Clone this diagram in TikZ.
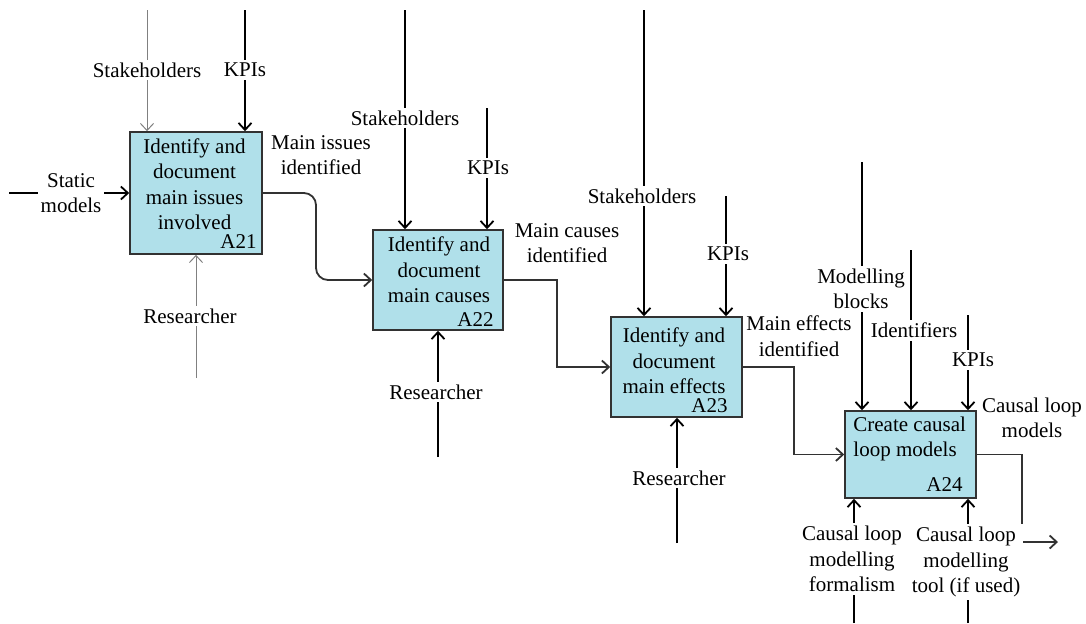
\documentclass[tikz,border=0pt]{standalone}
\usepackage{fontspec}
\setmainfont{Liberation Serif}
\usetikzlibrary{arrows.meta}
\definecolor{boxfill}{RGB}{176,224,234}
\definecolor{boxline}{RGB}{50,50,50}
\newcommand{\idfont}{\fontsize{10.5}{12.75}\selectfont}
\tikzset{
  proc/.style={draw=boxline, fill=boxfill, line width=0.8pt, inner sep=0pt},
  ptxt/.style={align=center, font=\idfont, inner sep=0pt},
  pid/.style={anchor=base east, font=\idfont, inner sep=0pt},
  lbl/.style={fill=white, align=center, font=\idfont, inner sep=1.5pt},
  feed/.style={-{Straight Barb[length=3.5pt,width=6.5pt]}, line width=0.9pt},
  faint/.style={feed, draw=gray, line width=0.5pt},
  flow/.style={feed, draw=boxline, line width=0.9pt}
}
\begin{document}
\begin{tikzpicture}[x=0.5pt, y=-0.5pt]
      \useasboundingbox (0,0) rectangle (1086,623);
      \node[proc, minimum width=66pt, minimum height=61pt] (a21) at (196,193) {};
      \node[proc, minimum width=65pt, minimum height=50pt] (a22) at (438,280) {};
      \node[proc, minimum width=65.5pt, minimum height=50pt] (a23) at (676.5,367) {};
      \node[proc, minimum width=65.5pt, minimum height=43.5pt] (a24) at (910.5,454.5) {};
      \node[ptxt] (a21t) at (194.5,184) {Identify and\\document\\main issues\\involved};
      \node[ptxt] (a22t) at (439,270) {Identify and\\document\\main causes};
      \node[ptxt] (a23t) at (674,361) {Identify and\\document\\main effects};
      \node[ptxt, align=left, anchor=west] (a24t) at (853,439) {Create causal\\loop models};
      \node[pid] (a21id) at (257,248) {A21};
      \node[pid] (a22id) at (494,326) {A22};
      \node[pid] (a23id) at (728,412) {A23};
      \node[pid] (a24id) at (963,491) {A24};
      \coordinate (m1) at (9,193);
      \coordinate (s1) at (147,10);
      \coordinate (k1) at (245,10);
      \coordinate (r1) at (196,378);
      \coordinate (s2) at (405,10);
      \coordinate (k2) at (487,108);
      \coordinate (r2) at (438,457);
      \coordinate (s3) at (644,10);
      \coordinate (k3) at (726,196);
      \coordinate (r3) at (677,543);
      \coordinate (b4) at (862,162);
      \coordinate (i4) at (911,250);
      \coordinate (k4) at (968,315);
      \coordinate (f4) at (854,623);
      \coordinate (t4) at (968,623);
      \coordinate (out) at (1058,542);
      \begin{scope}[feed]
        \draw (m1) -- (a21.west);
        \draw[faint] (s1) -- (s1 |- a21.north);
        \draw (k1) -- (k1 |- a21.north);
        \draw[faint] (r1) -- (r1 |- a21.south);
        \draw (s2) -- (s2 |- a22.north);
        \draw (k2) -- (k2 |- a22.north);
        \draw (r2) -- (r2 |- a22.south);
        \draw (s3) -- (s3 |- a23.north);
        \draw (k3) -- (k3 |- a23.north);
        \draw (r3) -- (r3 |- a23.south);
        \draw (b4) -- (b4 |- a24.north);
        \draw (i4) -- (i4 |- a24.north);
        \draw (k4) -- (k4 |- a24.north);
        \draw (f4) -- (f4 |- a24.south);
        \draw (t4) -- (t4 |- a24.south);
      \end{scope}
      \begin{scope}[flow]
        \draw[rounded corners=6pt] (a21.east) -- (316,193) -- (316,280) -- (a22.west);
        \draw (a22.east) -- (557,280) -- (557,367) -- (a23.west);
        \draw (a23.east) -- (794,367) -- (794,454.5) -- (a24.west);
        \draw (a24.east) -- (1022,454.5) -- (1022,542) -- (out);
      \end{scope}
      \node[lbl] (m1l) at (71,193) {Static\\models};
      \node[lbl] (s1l) at (147,70) {Stakeholders};
      \node[lbl] (k1l) at (245,70) {KPIs};
      \node[lbl] (r1l) at (190,316) {Researcher};
      \node[lbl] (o1l) at (321,155) {Main issues\\identified};
      \node[lbl] (s2l) at (405,118) {Stakeholders};
      \node[lbl] (k2l) at (488,168) {KPIs};
      \node[lbl] (r2l) at (436,392) {Researcher};
      \node[lbl] (o2l) at (567,243) {Main causes\\identified};
      \node[lbl] (s3l) at (642,196) {Stakeholders};
      \node[lbl] (k3l) at (728,254) {KPIs};
      \node[lbl] (r3l) at (679,478) {Researcher};
      \node[lbl] (o3l) at (799,336) {Main effects\\identified};
      \node[lbl] (b4l) at (861,289) {Modelling\\blocks};
      \node[lbl] (i4l) at (914,330) {Identifiers};
      \node[lbl] (k4l) at (973,360) {KPIs};
      \node[lbl] (f4l) at (852,559) {Causal loop\\modelling\\formalism};
      \node[lbl] (t4l) at (966,562) {Causal loop\\modelling\\tool (if used)};
      \node[lbl] (o4l) at (1032,418) {Causal loop\\models};
    \end{tikzpicture}
\end{document}
